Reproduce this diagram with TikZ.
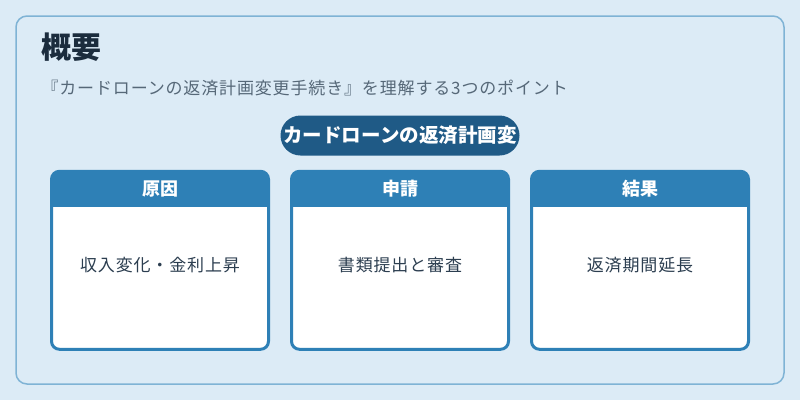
\documentclass[tikz,border=0pt]{standalone}
\usepackage{fontspec}
\setmainfont{Noto Sans CJK JP}
\usepackage{xcolor}

\definecolor{bgblue}{HTML}{DCEBF6}
\definecolor{framecol}{HTML}{7FB3D5}
\definecolor{titlecol}{HTML}{1B2C3D}
\definecolor{subcol}{HTML}{566878}
\definecolor{pillcol}{HTML}{1F5A86}
\definecolor{headcol}{HTML}{2E80B6}
\definecolor{bodycol}{HTML}{2C3E50}

\tikzset{
  pill/.style={fill=pillcol, text=white, rounded corners=20pt, minimum width=239pt,
    minimum height=40pt, inner sep=0pt, font=\bfseries\fontsize{19.5}{22}\selectfont},
  card/.style={draw=headcol, line width=3pt, fill=white, rounded corners=8pt,
    minimum width=217pt, minimum height=178pt, inner sep=0pt, outer sep=0pt},
  headtext/.style={text=white, font=\bfseries\fontsize{18}{20}\selectfont},
  bodytext/.style={text=bodycol, font=\fontsize{17}{19}\selectfont\addfontfeature{LetterSpace=5}}
}

\begin{document}
\begin{tikzpicture}[x=1pt,y=-1pt]
                \useasboundingbox[fill=bgblue] (0,0) rectangle (800,400);
                \draw[framecol, line width=1.5pt, rounded corners=11pt] (16,16) rectangle (784,384);

                \node [anchor=west, text=titlecol, font=\bfseries\fontsize{30}{34}\selectfont] (title) at (38,47) {概要};
                \node [anchor=west, text=subcol, font=\fontsize{17}{19}\selectfont\addfontfeature{LetterSpace=5}] (subtitle) at (38,88)
                      {『カードローンの返済計画変更手続き』を理解する3つのポイント};

                \node [pill] (pill) at (400,135.5) {カードローンの返済計画変};

                \foreach \x/\head/\body/\name in {160/原因/収入変化・金利上昇/cause,
                                                  400/申請/書類提出と審査/apply,
                                                  640/結果/返済期間延長/result}
                {
                \node [card] (\name) at (\x,260.3) {};
                \fill[headcol] ([yshift=-35.5pt]\name.north west) [rounded corners=8pt] -- (\name.north west)
                      -- (\name.north east) [sharp corners] -- ([yshift=-35.5pt]\name.north east) -- cycle;
                \node [headtext] (\name-head) at (\x,189) {\head};
                \node [bodytext] (\name-body) at (\x,265) {\body};
                }
                \end{tikzpicture}
\end{document}
